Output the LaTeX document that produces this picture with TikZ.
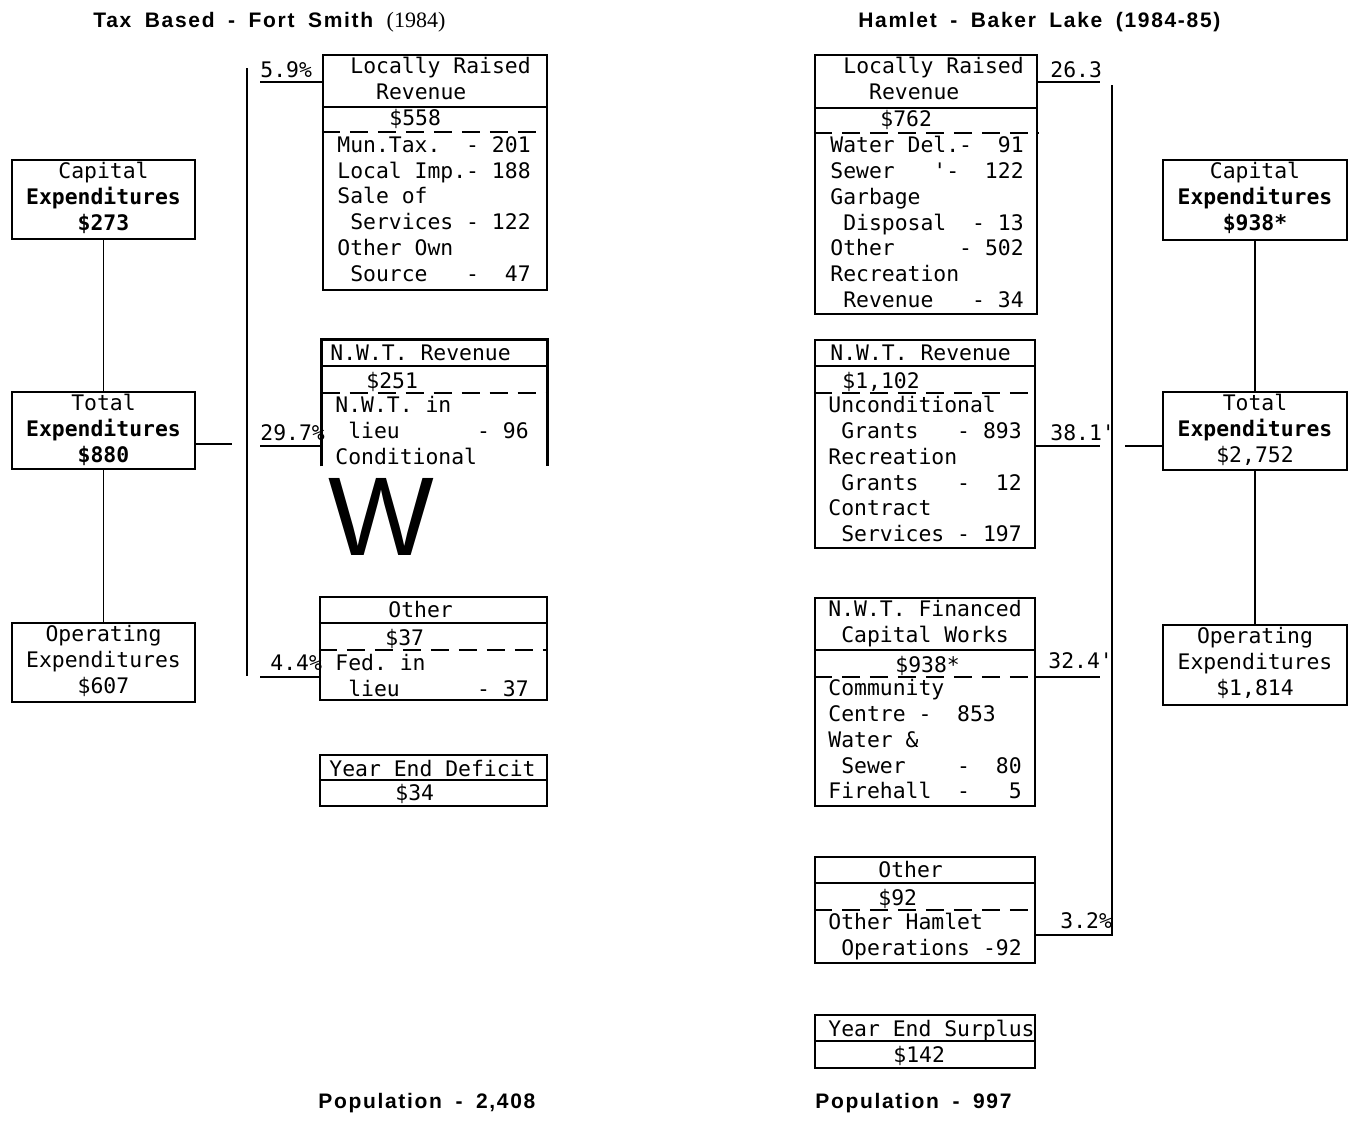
\documentclass[tikz,border=0pt]{standalone}
\usepackage{fontspec}
\setmonofont{DejaVu Sans Mono}
\newfontfamily\headfont[LetterSpace=8, WordSpace=1.8]{Liberation Sans}
\newfontfamily\yearfont{Liberation Serif}
\newfontfamily\markfont{Liberation Sans}
\usetikzlibrary{fit}
\newcommand{\lsp}{\mbox{}~}

\begin{document}
\begin{tikzpicture}[x=0.5pt, y=-0.5pt,
  box/.style={draw, line width=1.2pt, inner sep=0pt},
  rule/.style={line width=1.2pt},
  split/.style={line width=1.3pt, dash pattern=on 9pt off 5pt},
  wire/.style={line width=0.8pt},
  bus/.style={line width=1.2pt},
  tw/.style={font=\ttfamily\fontsize{10.7pt}{12.9pt}\selectfont, inner sep=0pt},
  lines/.style={tw, align=left, anchor=north west, execute at begin node=\strut},
  entry/.style={tw, anchor=base west},
  expbox/.style={tw, align=center, anchor=north, execute at begin node=\strut},
  head/.style={font=\headfont\bfseries\fontsize{10.5pt}{12pt}\selectfont,
    inner sep=0pt, anchor=base west}]
  \useasboundingbox (0,0) rectangle (1351,1142);

  % ---- Fort Smith ----
  \begin{scope}
    \node[head] (ftitle) at (93,27) {Tax Based - Fort Smith
      {\yearfont\mdseries\fontsize{11pt}{12pt}\selectfont(1984)}};
    % expenditures
    \node[box, fit={(12,160) (195,239)}] (fcapx) {};
    \node[expbox] (fcapxt) at ([yshift=-1.5pt]fcapx.north)
      {Capital\\\textbf{Expenditures}\\\textbf{\$273}};
    \node[box, fit={(12,392) (195,469)}] (ftotx) {};
    \node[expbox] (ftotxt) at ([yshift=-1.5pt]ftotx.north)
      {Total\\\textbf{Expenditures}\\\textbf{\$880}};
    \node[box, fit={(12,623) (195,702)}] (fopx) {};
    \node[expbox] (fopxt) at ([yshift=-1.5pt]fopx.north)
      {Operating\\Expenditures\\\$607};
    \draw[wire] (fcapx) -- (ftotx);
    \draw[wire] (ftotx) -- (fopx);
    \coordinate (ftotend) at (232,444);
    \draw[bus] (ftotx.east |- ftotend) -- (ftotend);
    \coordinate (fbust) at (247,68);
    \coordinate (fbusb) at (247,676);
    \draw[bus] (fbust) -- (fbusb);

    % locally raised revenue
    \node[box, fit={(323,55) (547,290)}] (flrr) {};
    \draw[rule] (flrr.west |- 0,107) -- (flrr.east |- 0,107);
    \draw[split] (flrr.west |- 0,132) -- (flrr.east |- 0,132);
    \node[lines] (flrrh) at (350,57) {Locally~Raised\\\lsp~Revenue};
    \node[entry] (flrrv) at (389,125) {\$558};
    \node[lines] (flrri) at (337,136) {Mun.Tax.~~-~201\\Local~Imp.-~188\\Sale~of\\
      \lsp Services~-~122\\Other~Own\\\lsp Source~~~-~~47};
    \coordinate (fp1) at (260,82);
    \node[entry] (fpc1) at (260,77) {5.9\%};
    \draw[bus] (fp1) -- (flrr.west |- fp1);

    % N.W.T. revenue, cut off at the foot
    \node[inner sep=0pt, fit={(322,340) (547,466)}] (fnwt) {};
    \draw[rule] (fnwt.south west) -- (fnwt.north west) -- (fnwt.north east)
      -- (fnwt.south east);
    \draw[rule] (fnwt.west |- 0,366) -- (fnwt.east |- 0,366);
    \draw[split] (fnwt.west |- 0,393) -- (fnwt.east |- 0,393);
    \node[entry] (fnwth) at (330,360) {N.W.T.~Revenue};
    \node[entry] (fnwtv) at (366,388) {\$251};
    \node[lines] (fnwti) at (335,396) {N.W.T.~in\\\lsp lieu~~~~~~-~96\\Conditional};
    \node[font=\markfont\fontsize{56pt}{60pt}\selectfont, inner sep=0pt,
      text height=40pt, text depth=0pt, anchor=base west] (wmark) at (328,555) {W};
    \coordinate (fp2) at (260,446);
    \node[entry] (fpc2) at (260,440) {29.7\%};
    \draw[bus] (fp2) -- (fnwt.west |- fp2);

    % other revenue
    \node[box, fit={(320,597) (547,700)}] (foth) {};
    \draw[rule] (foth.west |- 0,623) -- (foth.east |- 0,623);
    \draw[split] (foth.west |- 0,650) -- (foth.east |- 0,650);
    \node[entry] (fothh) at (388,617) {Other};
    \node[entry] (fothv) at (385,645) {\$37};
    \node[lines] (fothi) at (335,654) {Fed.~in\\\lsp lieu~~~~~~-~37};
    \coordinate (fp3) at (260,677);
    \node[entry] (fpc3) at (270,670) {4.4\%};
    \draw[bus] (fp3) -- (foth.west |- fp3);

    % deficit
    \node[box, fit={(320,755) (547,806)}] (fdef) {};
    \draw[rule] (fdef.west |- 0,780) -- (fdef.east |- 0,780);
    \node[entry] (fdefh) at (329,776) {Year~End~Deficit};
    \node[entry] (fdefv) at (395,800) {\$34};

    \node[head] (fpop) at (318,1108) {Population - 2,408};
  \end{scope}

  % ---- Baker Lake ----
  \begin{scope}
    \node[head] (htitle) at (858,27) {Hamlet - Baker Lake (1984-85)};
    % revenue column
    \node[box, fit={(815,55) (1037,314)}] (hlrr) {};
    \draw[rule] (hlrr.west |- 0,108) -- (hlrr.east |- 0,108);
    \draw[split] (hlrr.west |- 0,133) -- (hlrr.east |- 0,133);
    \node[lines] (hlrrh) at (843,57) {Locally~Raised\\\lsp~Revenue};
    \node[entry] (hlrrv) at (880,126) {\$762};
    \node[lines] (hlrri) at (830,136) {Water~Del.-~~91\\Sewer~~~'-~~122\\Garbage\\
      \lsp Disposal~~-~13\\Other~~~~~-~502\\Recreation\\\lsp Revenue~~~-~34};
    \coordinate (hp1) at (1100,82);
    \node[entry] (hpc1) at (1050,77) {26.3};
    \draw[bus] (hlrr.east |- hp1) -- (hp1);

    \node[box, fit={(815,340) (1035,548)}] (hnwt) {};
    \draw[rule] (hnwt.west |- 0,366) -- (hnwt.east |- 0,366);
    \draw[split] (hnwt.west |- 0,393) -- (hnwt.east |- 0,393);
    \node[entry] (hnwth) at (830,360) {N.W.T.~Revenue};
    \node[entry] (hnwtv) at (842,388) {\$1,102};
    \node[lines] (hnwti) at (828,396) {Unconditional\\\lsp Grants~~~-~893\\Recreation\\
      \lsp Grants~~~-~~12\\Contract\\\lsp Services~-~197};
    \coordinate (hp2) at (1100,446);
    \node[entry] (hpc2) at (1050,440) {38.1'};
    \draw[bus] (hnwt.east |- hp2) -- (hp2);

    \node[box, fit={(815,598) (1035,806)}] (hcap) {};
    \draw[rule] (hcap.west |- 0,650) -- (hcap.east |- 0,650);
    \draw[split] (hcap.west |- 0,677) -- (hcap.east |- 0,677);
    \node[lines] (hcaph) at (828,600) {N.W.T.~Financed\\\lsp Capital~Works};
    \node[entry] (hcapv) at (895,672) {\$938*};
    \node[lines] (hcapi) at (828,679) {Community\\Centre~-~~853\\Water~\&\\
      \lsp Sewer~~~~-~~80\\Firehall~~-~~~5};
    \coordinate (hp3) at (1100,677);
    \node[entry] (hpc3) at (1048,668) {32.4'};
    \draw[bus] (hcap.east |- hp3) -- (hp3);

    \node[box, fit={(815,857) (1035,963)}] (hoth) {};
    \draw[rule] (hoth.west |- 0,883) -- (hoth.east |- 0,883);
    \draw[split] (hoth.west |- 0,910) -- (hoth.east |- 0,910);
    \node[entry] (hothh) at (878,877) {Other};
    \node[entry] (hothv) at (878,905) {\$92};
    \node[lines] (hothi) at (828,913) {Other~Hamlet\\\lsp Operations~-92};

    \node[box, fit={(815,1015) (1035,1068)}] (hsur) {};
    \draw[rule] (hsur.west |- 0,1041) -- (hsur.east |- 0,1041);
    \node[entry] (hsurh) at (828,1036) {Year~End~Surplus};
    \node[entry] (hsurv) at (893,1062) {\$142};

    % bus, ending at the 3.2% line
    \coordinate (hbust) at (1112,85);
    \coordinate (hbusb) at (1112,935);
    \node[entry] (hpc4) at (1060,928) {3.2\%};
    \draw[bus] (hoth.east |- hbusb) -- (hbusb) -- (hbust);

    % expenditures
    \node[box, fit={(1163,160) (1347,240)}] (hcapx) {};
    \node[expbox] (hcapxt) at ([yshift=-1.5pt]hcapx.north)
      {Capital\\\textbf{Expenditures}\\\textbf{\$938*}};
    \node[box, fit={(1163,392) (1347,470)}] (htotx) {};
    \node[expbox] (htotxt) at ([yshift=-1.5pt]htotx.north)
      {Total\\\textbf{Expenditures}\\\$2,752};
    \node[box, fit={(1163,625) (1347,705)}] (hopx) {};
    \node[expbox] (hopxt) at ([yshift=-1.5pt]hopx.north)
      {Operating\\Expenditures\\\$1,814};
    \draw[wire] (hcapx) -- (htotx);
    \draw[wire] (htotx) -- (hopx);
    \coordinate (htotend) at (1125,446);
    \draw[bus] (htotend) -- (htotx.west |- htotend);

    \node[head] (hpop) at (815,1108) {Population - 997};
  \end{scope}
\end{tikzpicture}
\end{document}
